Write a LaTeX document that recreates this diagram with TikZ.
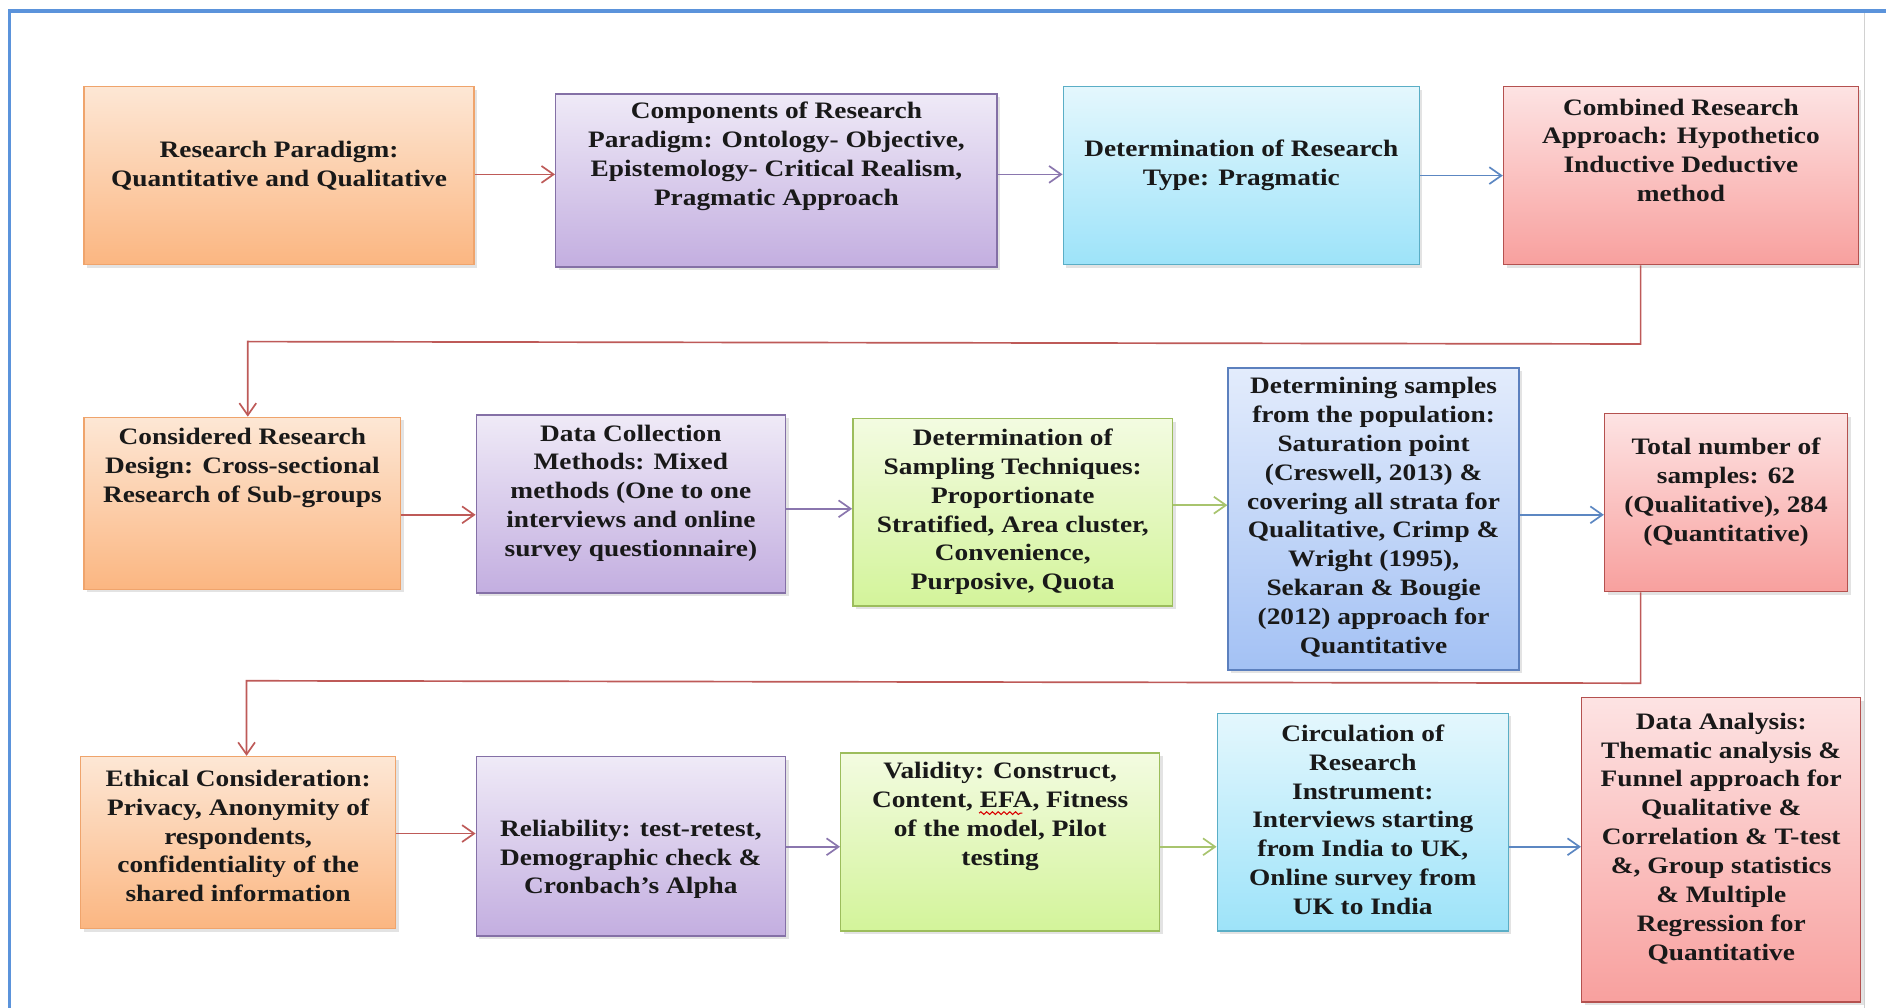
\documentclass[tikz,border=0pt]{standalone}
\usepackage{fontspec}
\setmainfont{Liberation Serif}[FakeStretch=1.16]
\usetikzlibrary{arrows.meta,shadows,fit,decorations.pathmorphing}

% box palettes: top shade, bottom shade, outline
\definecolor{orTop}{HTML}{FDE7D5}\definecolor{orBot}{HTML}{FBB681}\definecolor{orLine}{HTML}{EFA46C}
\definecolor{puTop}{HTML}{EFEAF7}\definecolor{puBot}{HTML}{C3AEE0}\definecolor{puLine}{HTML}{8470A6}
\definecolor{cyTop}{HTML}{E4F7FD}\definecolor{cyBot}{HTML}{9DE3F9}\definecolor{cyLine}{HTML}{5AAEC6}
\definecolor{rdTop}{HTML}{FDE3E3}\definecolor{rdBot}{HTML}{F8A09E}\definecolor{rdLine}{HTML}{B4514F}
\definecolor{grTop}{HTML}{F3FBE1}\definecolor{grBot}{HTML}{D3F49A}\definecolor{grLine}{HTML}{9CBD5C}
\definecolor{blTop}{HTML}{E3ECFC}\definecolor{blBot}{HTML}{A3C1F4}\definecolor{blLine}{HTML}{5C80BE}
% connector colours
\definecolor{arRed}{HTML}{BE5A58}\definecolor{arPur}{HTML}{8A76AE}
\definecolor{arBlu}{HTML}{5C87C2}\definecolor{arGrn}{HTML}{A8C46E}
\definecolor{frameBlue}{HTML}{5B93DB}

\tikzset{
  boxbase/.style={inner sep=0pt, line width=0.6pt,
    drop shadow={shadow xshift=1.3pt, shadow yshift=-1.3pt, opacity=0.22}},
  orangebox/.style={boxbase, draw=orLine, top color=orTop, bottom color=orBot},
  purplebox/.style={boxbase, draw=puLine, top color=puTop, bottom color=puBot},
  cyanbox/.style={boxbase, draw=cyLine, top color=cyTop, bottom color=cyBot},
  redbox/.style={boxbase, draw=rdLine, top color=rdTop, bottom color=rdBot},
  greenbox/.style={boxbase, draw=grLine, top color=grTop, bottom color=grBot},
  bluebox/.style={boxbase, draw=blLine, top color=blTop, bottom color=blBot},
  txt/.style={font=\bfseries\fontsize{9.8}{12}\selectfont, align=center, inner sep=0pt, text=black!90},
  link/.style={line width=0.7pt, draw=#1, -{Straight Barb[length=5pt,width=7pt]}},
}

\begin{document}
\begin{tikzpicture}[x=0.5pt,y=-0.5pt]
\useasboundingbox (0,0) rectangle (1568,838);
\fill[white] (0,0) rectangle (1568,838);

% page frame
\draw[frameBlue, line width=1.5pt] (8,838) -- (8,9) -- (1568,9);
\draw[black!18, line width=0.6pt] (1550,11) -- (1550,838);

% ---- first row
\node[orangebox, fit={(70,72) (394,220)}] (B1) {};
\node[txt] at (B1.center |- 0,137.5) {Research Paradigm:\\Quantitative and Qualitative};
\node[purplebox, fit={(462,78) (829,222)}] (B2) {};
\node[txt] at (B2.center |- 0,130) {Components of Research\\Paradigm: Ontology- Objective,\\Epistemology- Critical Realism,\\Pragmatic Approach};
\node[cyanbox, fit={(884,72) (1180,220)}] (B3) {};
\node[txt] at (B3.center |- 0,137.5) {Determination of Research\\Type: Pragmatic};
\node[redbox, fit={(1250,72) (1545,220)}] (B4) {};
\node[txt] at (B4.center |- 0,125) {Combined Research\\Approach: Hypothetico\\Inductive Deductive\\method};

% ---- second row
\node[orangebox, fit={(70,347) (333,490)}] (C1) {};
\node[txt] at (C1.center |- 0,389) {Considered Research\\Design: Cross-sectional\\Research of Sub-groups};
\node[purplebox, fit={(396,345) (653,493)}] (C2) {};
\node[txt] at (C2.center |- 0,410) {Data Collection\\Methods: Mixed\\methods (One to one\\interviews and online\\survey questionnaire)};
\node[greenbox, fit={(709,348) (975,504)}] (C3) {};
\node[txt] at (C3.center |- 0,425.5) {Determination of\\Sampling Techniques:\\Proportionate\\Stratified, Area cluster,\\Convenience,\\Purposive, Quota};
\node[bluebox, fit={(1021,306) (1263,557)}] (C4) {};
\node[txt] at (C4.center |- 0,430) {Determining samples\\from the population:\\Saturation point\\(Creswell, 2013) \&\\covering all strata for\\Qualitative, Crimp \&\\Wright (1995),\\Sekaran \& Bougie\\(2012) approach for\\Quantitative};
\node[redbox, fit={(1334,344) (1536,492)}] (C5) {};
\node[txt] at (C5.center |- 0,409) {Total number of\\samples: 62\\(Qualitative), 284\\(Quantitative)};

% ---- third row
\node[orangebox, fit={(67,629) (329,772)}] (D1) {};
\node[txt] at (D1.center |- 0,695) {Ethical Consideration:\\Privacy, Anonymity of\\respondents,\\confidentiality of the\\shared information};
\node[purplebox, fit={(396,629) (653,778)}] (D2) {};
\node[txt] at (D2.center |- 0,714.5) {Reliability: test-retest,\\Demographic check \&\\Cronbach’s Alpha};
\node[greenbox, fit={(699,626) (964,774)}] (D3) {};
\node[txt] at (D3.center |- 0,679) {Validity: Construct,\\Content, EFA, Fitness\\of the model, Pilot\\testing};
\node[cyanbox, fit={(1012,593) (1254,774)}] (D4) {};
\node[txt] at (D4.center |- 0,681.5) {Circulation of\\Research\\Instrument:\\Interviews starting\\from India to UK,\\Online survey from\\UK to India};
\node[redbox, fit={(1315,580) (1547,833)}] (D5) {};
\node[txt] at (D5.center |- 0,697) {Data Analysis:\\Thematic analysis \&\\Funnel approach for\\Qualitative \&\\Correlation \& T-test\\\&, Group statistics\\\& Multiple\\Regression for\\Quantitative};

% spell-check wave under "EFA"
\draw[red!85!black, line width=0.45pt, decorate,
      decoration={snake, amplitude=0.55pt, segment length=2.4pt}] (814,676) -- (850,676);

% ---- arrows along the rows
\draw[link=arRed] (B1.east |- 0,145) -- (B2.west |- 0,145);
\draw[link=arPur] (B2.east |- 0,145) -- (B3.west |- 0,145);
\draw[link=arBlu] (B3.east |- 0,146) -- (B4.west |- 0,146);

\draw[link=arRed] (C1.east |- 0,428) -- (C2.west |- 0,428);
\draw[link=arPur] (C2.east |- 0,423) -- (C3.west |- 0,423);
\draw[link=arGrn] (C3.east |- 0,420) -- (C4.west |- 0,420);
\draw[link=arBlu] (C4.east |- 0,428) -- (C5.west |- 0,428);

\draw[link=arRed] (D1.east |- 0,693) -- (D2.west |- 0,693);
\draw[link=arPur] (D2.east |- 0,704) -- (D3.west |- 0,704);
\draw[link=arGrn] (D3.east |- 0,704) -- (D4.west |- 0,704);
\draw[link=arBlu] (D4.east |- 0,704) -- (D5.west |- 0,704);

% ---- returns from the end of one row to the start of the next
\draw[link=arRed] (B4.south -| 1364,0) -- (1364,286) -- (206,284) -- (C1.north -| 206,0);
\draw[link=arRed] (C5.south -| 1364,0) -- (1364,568) -- (205,566) -- (D1.north -| 205,0);
\end{tikzpicture}
\end{document}
